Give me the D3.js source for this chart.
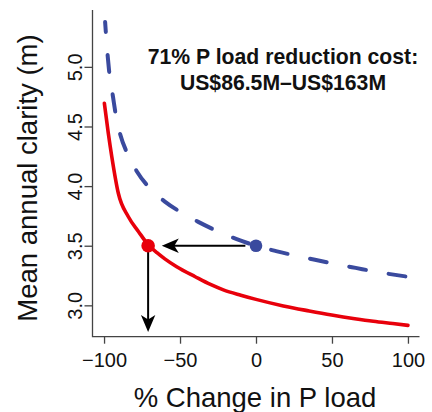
<!DOCTYPE html>
<html>
<head>
<meta charset="utf-8">
<script src="https://cdn.jsdelivr.net/npm/d3@7"></script>
<style>
  html, body { margin: 0; padding: 0; background: #fff; }
  text { font-family: "Liberation Sans", Arial, Helvetica, sans-serif; }
</style>
</head>
<body>
<svg id="chart" width="432" height="412"></svg>
<script>
// ---- data ----
const redX = [-99.8, -97.2, -94.9, -90.6, -84, -77.4, -70.8, -65, -60, -52.2, -40, -30, -21.5, -10, 0, 18, 35, 49.8, 65, 77.2, 90, 100];
const redY = [4.695, 4.443, 4.247, 3.94, 3.743, 3.62, 3.506, 3.44, 3.39, 3.324, 3.24, 3.175, 3.13, 3.085, 3.05, 2.995, 2.953, 2.919, 2.888, 2.866, 2.847, 2.832];
const blueX = [-99.3, -98, -96.7, -94, -92.3, -90.1, -84.2, -78.5, -69.7, -60, -48.2, -38, -24.1, -12.7, 0, 13.2, 27.8, 38.8, 54.2, 65.6, 80.5, 100];
const blueY = [5.377, 5.15, 4.97, 4.74, 4.60, 4.47, 4.26, 4.125, 3.98, 3.87, 3.772, 3.70, 3.615, 3.555, 3.50, 3.455, 3.412, 3.382, 3.342, 3.314, 3.278, 3.24];
const xTicks = [-100, -50, 0, 50, 100];
const yTicks = [3.0, 3.5, 4.0, 4.5, 5.0];
const redPoint = {x: -71, y: 3.5};
const bluePoint = {x: 0, y: 3.5};
const hArrow = {x1: -7, x2: -62, y: 3.5};
const vArrow = {x: -71, y1: 3.5, y2: 2.776};
const xLabel = "% Change in P load";
const yLabel = "Mean annual clarity (m)";
const noteLines = ["71% P load reduction cost:", "US$86.5M\u2013US$163M"];

// ---- setup ----
const svg = d3.select("#chart");
const x = d3.scaleLinear().domain([-107.6, 107.6]).range([92.5, 419.5]);
const y = d3.scaleLinear().domain([2.737, 5.477]).range([336.7, 10]);
const axisCol = "#444";
const red = "#e8000b";
const blue = "#3a4a9e";

// L-shaped box
svg.append("path")
  .attr("d", `M${x.range()[0]},${y.range()[1]}V${y.range()[0]}H${x.range()[1]}`)
  .attr("fill", "none").attr("stroke", axisCol).attr("stroke-width", 1.3);

// x axis
const gx = svg.append("g").attr("transform", `translate(0,${y.range()[0]})`)
  .call(d3.axisBottom(x).tickValues(xTicks).tickSize(7).tickPadding(6)
    .tickFormat(d => d < 0 ? "\u2212" + Math.abs(d) : String(d)));
gx.select(".domain").remove();
gx.selectAll(".tick line").attr("stroke", axisCol).attr("stroke-width", 1.3);
gx.selectAll(".tick text").attr("font-size", 20).attr("fill", "#111")
  .attr("y", 30).attr("dy", 0);

// y axis
const gy = svg.append("g").attr("transform", `translate(${x.range()[0]},0)`)
  .call(d3.axisLeft(y).tickValues(yTicks).tickSize(8).tickFormat(d3.format(".1f")));
gy.select(".domain").remove();
gy.selectAll(".tick line").attr("stroke", axisCol).attr("stroke-width", 1.3);
gy.selectAll(".tick text")
  .attr("font-size", 20).attr("fill", "#111")
  .attr("x", null).attr("dy", null)
  .attr("text-anchor", "middle")
  .attr("transform", "translate(-11,0) rotate(-90)");

// axis titles
svg.append("text").attr("x", 255).attr("y", 406.5)
  .attr("text-anchor", "middle").attr("font-size", 27.5).attr("fill", "#111").text(xLabel);
svg.append("text").attr("transform", "translate(37,178) rotate(-90)")
  .attr("text-anchor", "middle").attr("font-size", 27.5).attr("fill", "#111").text(yLabel);

// curves
const mk = (xs, ys) => xs.map((v, i) => [v, ys[i]]);
const lineGen = d3.line().x(d => x(d[0])).y(d => y(d[1])).curve(d3.curveMonotoneX);

svg.append("path").datum(mk(blueX, blueY))
  .attr("d", lineGen).attr("fill", "none").attr("stroke", blue)
  .attr("stroke-width", 4).attr("stroke-linecap", "round")
  .attr("stroke-dasharray", "17,23").attr("stroke-dashoffset", 7);

svg.append("path").datum(mk(redX, redY))
  .attr("d", lineGen).attr("fill", "none").attr("stroke", red)
  .attr("stroke-width", 3.6).attr("stroke-linecap", "round").attr("stroke-linejoin", "round");

// arrows
function arrowHead(tx, ty, dir) {
  const L = 17, W = 7.2, N = 12.5;
  if (dir === "left") {
    return `M${tx},${ty}L${tx + L},${ty - W}L${tx + N},${ty}L${tx + L},${ty + W}Z`;
  }
  return `M${tx},${ty}L${tx - W},${ty - L}L${tx},${ty - N}L${tx + W},${ty - L}Z`;
}
svg.append("line")
  .attr("x1", x(hArrow.x1)).attr("x2", x(hArrow.x2) + 12)
  .attr("y1", y(hArrow.y)).attr("y2", y(hArrow.y))
  .attr("stroke", "#000").attr("stroke-width", 2);
svg.append("path").attr("d", arrowHead(x(hArrow.x2), y(hArrow.y), "left")).attr("fill", "#000");

svg.append("line")
  .attr("x1", x(vArrow.x)).attr("x2", x(vArrow.x))
  .attr("y1", y(vArrow.y1)).attr("y2", y(vArrow.y2) - 12)
  .attr("stroke", "#000").attr("stroke-width", 2);
svg.append("path").attr("d", arrowHead(x(vArrow.x), y(vArrow.y2), "down")).attr("fill", "#000");

// points
svg.append("circle").attr("cx", x(bluePoint.x)).attr("cy", y(bluePoint.y)).attr("r", 6.3).attr("fill", blue);
svg.append("circle").attr("cx", x(redPoint.x)).attr("cy", y(redPoint.y)).attr("r", 6.8).attr("fill", red);

// annotation
svg.append("text").attr("x", 283).attr("y", 64)
  .attr("text-anchor", "middle").attr("font-size", 21.2).attr("font-weight", "bold").attr("fill", "#111")
  .text(noteLines[0]);
svg.append("text").attr("x", 283).attr("y", 90)
  .attr("text-anchor", "middle").attr("font-size", 21.2).attr("font-weight", "bold").attr("fill", "#111")
  .text(noteLines[1]);
</script>
</body>
</html>
